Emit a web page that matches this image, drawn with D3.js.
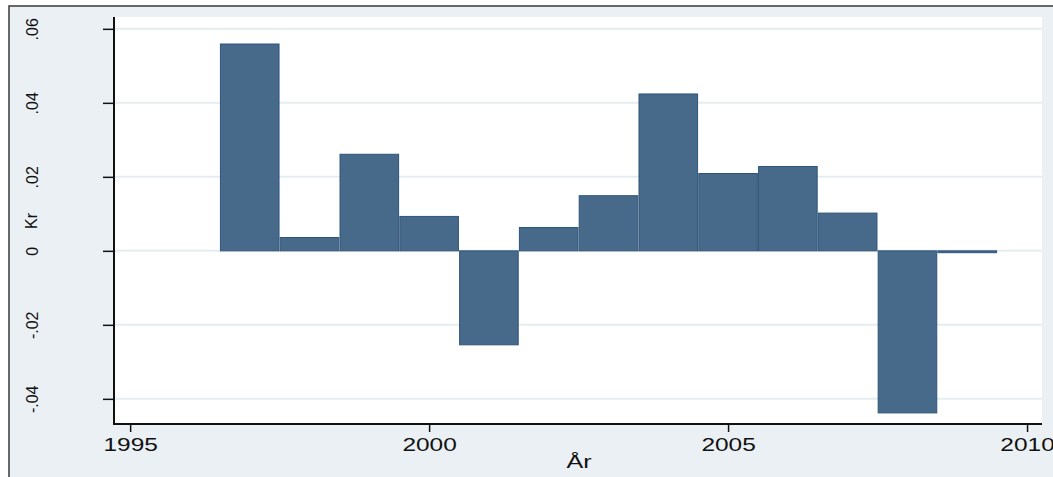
<!DOCTYPE html>
<html>
<head>
<meta charset="utf-8">
<script src="https://cdn.jsdelivr.net/npm/d3@7"></script>
<style>
  body { margin: 0; background: #fff; }
  svg { display: block; }
  svg text { font-family: "Liberation Sans", Arial, sans-serif; }
</style>
</head>
<body>
<div id="chart"></div>
<script>
// yearly values (Kr)
var years = [1997, 1998, 1999, 2000, 2001, 2002, 2003, 2004, 2005, 2006, 2007, 2008, 2009];
var values = [0.0559, 0.0036, 0.0261, 0.0093, -0.0254, 0.0063, 0.0149, 0.0424,
    0.0209, 0.0228, 0.0102, -0.0438, -0.0005];
var yTicks = [-0.04, -0.02, 0, 0.02, 0.04, 0.06];
var yTickLabels = ["-.04", "-.02", "0", ".02", ".04", ".06"];
var xTicks = [1995, 2000, 2005, 2010];

var width = 1053, height = 477;
var plot = {left: 114, right: 1042, top: 17, bottom: 424};
var labelX = 32;

var svg = d3.select("#chart")
    .append("svg")
    .attr("width", width)
    .attr("height", height);

// outer background + frame
svg.append("rect")
    .attr("x", 9).attr("y", 6)
    .attr("width", width + 10).attr("height", height + 10)
    .attr("fill", "#eaf0f3")
    .attr("stroke", "#444")
    .attr("stroke-width", 1.6);

svg.append("rect")
    .attr("x", plot.left).attr("y", plot.top)
    .attr("width", plot.right - plot.left)
    .attr("height", plot.bottom - plot.top)
    .attr("fill", "#fff");

var x = d3.scaleLinear()
    .domain([1994.73, 2010.25])
    .range([plot.left, plot.right]);

var y = d3.scaleLinear()
    .domain([-0.0468, 0.0632])
    .range([plot.bottom, plot.top]);

// gridlines
svg.append("g")
  .selectAll("line")
  .data(yTicks)
  .enter()
  .append("line")
  .attr("x1", plot.left)
  .attr("x2", plot.right)
  .attr("y1", function(d) { return y(d); })
  .attr("y2", function(d) { return y(d); })
  .attr("stroke", "#e4edf0")
  .attr("stroke-width", 2);

// bars
svg.append("g")
  .selectAll("rect")
  .data(years)
  .enter()
  .append("rect")
  .attr("x", function(d) { return x(d - 0.5) + 0.6; })
  .attr("width", function(d) { return x(d + 0.5) - x(d - 0.5) - 1.2; })
  .attr("y", function(d, i) { return y(Math.max(0, values[i])); })
  .attr("height", function(d, i) {
    return Math.max(1.5, Math.abs(y(values[i]) - y(0)));
  })
  .attr("fill", "#486a8a")
  .attr("stroke", "#2f5479")
  .attr("stroke-width", 1);

// y axis
var yAxis = d3.axisLeft(y)
    .tickValues(yTicks)
    .tickSize(11)
    .tickFormat(function(d, i) { return yTickLabels[i]; });

var gy = svg.append("g")
    .attr("transform", "translate(" + plot.left + ",0)")
    .call(yAxis)
    .attr("font-family", null)
    .attr("font-size", null);
gy.select(".domain").remove();
gy.selectAll(".tick line").attr("stroke", "#111").attr("stroke-width", 1.5);
gy.selectAll(".tick text")
    .attr("transform", "translate(" + (labelX - plot.left) + ",0) rotate(-90)")
    .attr("x", 0).attr("y", 0).attr("dy", "0.35em")
    .attr("text-anchor", "middle")
    .attr("font-size", 16)
    .attr("fill", "#111");

svg.append("line")
    .attr("x1", plot.left).attr("x2", plot.left)
    .attr("y1", plot.top).attr("y2", plot.bottom + 1)
    .attr("stroke", "#111").attr("stroke-width", 2);

// x axis
var xAxis = d3.axisBottom(x)
    .tickValues(xTicks)
    .tickSize(8)
    .tickFormat(d3.format("d"));

var gx = svg.append("g")
    .attr("transform", "translate(0," + plot.bottom + ")")
    .call(xAxis)
    .attr("font-family", null)
    .attr("font-size", null);
gx.select(".domain").remove();
gx.selectAll(".tick line").attr("stroke", "#111").attr("stroke-width", 1.5);
gx.selectAll(".tick text")
    .attr("y", 0)
    .attr("dy", null)
    .attr("transform", "translate(0,27) scale(1.36,1)")
    .attr("font-size", 18)
    .attr("fill", "#111");

svg.append("line")
    .attr("x1", plot.left - 1).attr("x2", plot.right)
    .attr("y1", plot.bottom).attr("y2", plot.bottom)
    .attr("stroke", "#111").attr("stroke-width", 2);

// axis titles
svg.append("text")
    .attr("transform", "translate(" + (labelX - 1) + ",221) rotate(-90)")
    .attr("dy", "0.35em")
    .attr("text-anchor", "middle")
    .attr("font-size", 16)
    .attr("fill", "#111")
    .text("Kr");

svg.append("text")
    .attr("transform", "translate(579,468) scale(1.4,1)")
    .attr("text-anchor", "middle")
    .attr("font-size", 18)
    .attr("fill", "#111")
    .text("År");
</script>
</body>
</html>
